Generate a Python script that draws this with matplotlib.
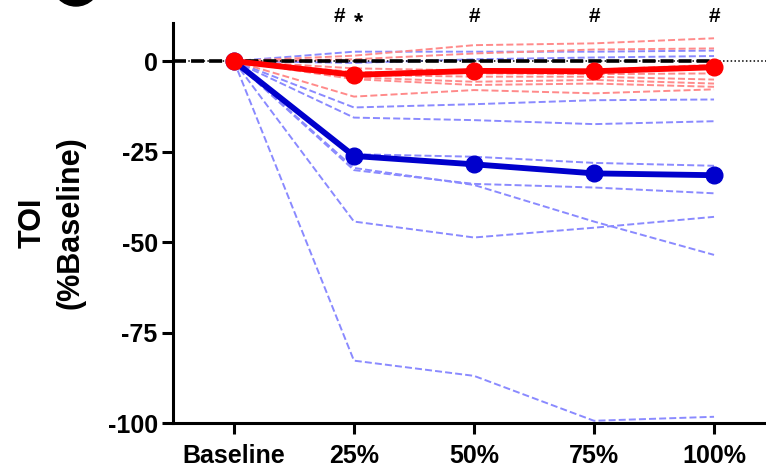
import matplotlib
matplotlib.use("Agg")
import matplotlib.pyplot as plt
from matplotlib.patches import Ellipse
import numpy as np

plt.rcParams['font.family'] = ['Liberation Sans', 'DejaVu Sans']
plt.rcParams['font.weight'] = 'bold'
plt.rcParams['axes.unicode_minus'] = False

levels = ['Baseline', '25%', '50%', '75%', '100%']

# group means
red_mean = [0, -3.8, -2.7, -2.8, -1.7]
blue_mean = [0, -26.2, -28.5, -31.0, -31.5]

# individual subjects
red_subjects = [
    [0, 1.5, 4.4, 4.9, 6.3],
    [0, 0.5, 2.1, 3.2, 3.5],
    [0, -2.0, -2.6, -2.4, -1.0],
    [0, -3.0, -3.4, -3.6, -3.4],
    [0, -3.8, -4.3, -4.3, -5.1],
    [0, -4.5, -5.7, -5.2, -6.2],
    [0, -5.0, -6.6, -6.2, -7.1],
    [0, -9.8, -8.0, -8.9, -7.8],
]
blue_subjects = [
    [0, 2.6, 2.6, 2.6, 2.9],
    [0, -0.5, 0.5, 1.0, 1.4],
    [0, -12.8, -11.9, -10.8, -10.6],
    [0, -15.6, -16.3, -17.4, -16.6],
    [0, -25.7, -26.4, -28.1, -28.9],
    [0, -30.1, -33.9, -34.9, -36.5],
    [0, -29.5, -34.2, -44.3, -53.5],
    [0, -44.3, -48.7, -46.0, -43.0],
    [0, -82.7, -86.9, -99.3, -98.2],
]

# significance marks above each level
marks = {1: '#', 2: '#', 3: '#', 4: '#'}

x = np.arange(len(levels))

fig = plt.figure(figsize=(7.66, 4.76), dpi=100)
ax = fig.add_axes([0.2258, 0.1107, 0.7742, 0.8416])

for s in blue_subjects:
    ax.plot(x, s, color='#8a8aff', lw=1.4, dashes=(3.6, 1.6), zorder=2)
for s in red_subjects:
    ax.plot(x, s, color='#ff8a8a', lw=1.4, dashes=(3.6, 1.6), zorder=2)

ax.axhline(0, color='black', lw=1.1, ls=(0, (1, 1.5)), zorder=3)
ax.hlines(0, -0.51, x[-1], color='black', lw=2.6, linestyles=(0, (3.6, 1.4)), zorder=3)

ax.plot(x, blue_mean, color='#0000cc', lw=4.2, marker='o', ms=12, zorder=4)
ax.plot(x, red_mean, color='#ff0000', lw=4.2, marker='o', ms=12, zorder=5)

for i, m in marks.items():
    ax.text(i - (0.12 if i == 1 else 0), 12.2, m, ha='center', va='center',
            fontsize=15, fontweight='bold', clip_on=False)
ax.text(1.04, 10.6, '*', ha='center', va='center', fontsize=17,
        fontweight='bold', clip_on=False)

ax.set_xlim(-0.508, 4.433)
ax.set_ylim(-100, 10.6)
ax.set_xticks(x)
ax.set_xticklabels(levels)
ax.set_yticks([0, -25, -50, -75, -100])

for side in ['top', 'right']:
    ax.spines[side].set_visible(False)
for side in ['left', 'bottom']:
    ax.spines[side].set_linewidth(2.2)

ax.tick_params(axis='y', length=8, width=2.2, pad=3, labelsize=18)
ax.tick_params(axis='x', length=8, width=2.2, pad=7, labelsize=18)
for lab in ax.get_xticklabels() + ax.get_yticklabels():
    lab.set_fontweight('bold')

ax.set_ylabel('TOI\n(%Baseline)', fontsize=22, fontweight='bold', linespacing=1.35)
ax.yaxis.set_label_coords(-0.147, 0.5)

# panel badge, mostly above the page
fig.add_artist(Ellipse((76 / 766, 1 + 18 / 476), 48 / 766, 48 / 476,
                       color='black', transform=fig.transFigure, clip_on=False))

fig.savefig('out.png', dpi=100)
